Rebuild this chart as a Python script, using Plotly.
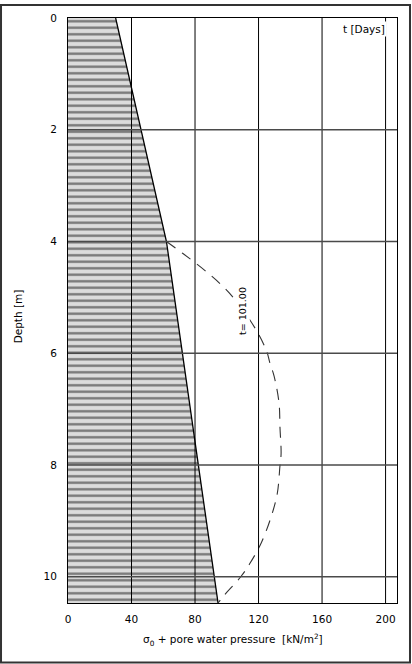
import plotly.graph_objects as go

# ---- data ----
depth_sigma = [0.0, 4.0, 10.47]
sigma0 = [30.0, 62.0, 94.5]

depth_t101 = [4.0, 4.22, 4.52, 4.81, 5.08, 5.55, 5.97, 6.18, 6.41, 6.89,
              7.33, 7.80, 8.01, 8.51, 8.93, 9.40, 9.76, 10.0, 10.35, 10.47]
total_t101 = [62.0, 72.6, 86.3, 97.8, 106.3, 117.8, 125.2, 127.2, 129.8, 132.9,
              133.5, 134.2, 133.5, 131.8, 127.9, 121.6, 114.6, 108.8, 97.8, 94.5]

x_ticks = [0, 40, 80, 120, 160, 200]
y_ticks = [0, 2, 4, 6, 8, 10]
x_range = [0, 207.2]
y_range = [10.47, 0]

curve_label = "t= 101.00"
curve_label_pos = (110.0, 5.25)

FONT = "DejaVu Sans"

fig = go.Figure()

# hatched sigma_0 area
poly_x = [0] + sigma0 + [0]
poly_y = [depth_sigma[0]] + depth_sigma + [depth_sigma[-1]]
fig.add_trace(go.Scatter(
    x=poly_x, y=poly_y, mode="lines", fill="toself",
    fillcolor="#dcdcdc",
    fillpattern=dict(shape="-", bgcolor="#dcdcdc", fgcolor="#111111",
                     size=6.5, solidity=0.36),
    line=dict(width=0), hoverinfo="skip", showlegend=False))

# sigma_0 line
fig.add_trace(go.Scatter(
    x=sigma0, y=depth_sigma, mode="lines",
    line=dict(color="black", width=1.3), showlegend=False))

# t = 101 days curve
fig.add_trace(go.Scatter(
    x=total_t101, y=depth_t101, mode="lines",
    line=dict(color="#333333", width=1.1, dash="11px,8px", shape="spline"),
    showlegend=False))

# grid lines above the hatching
shapes = []
for v in x_ticks[1:]:
    shapes.append(dict(type="line", xref="x", yref="paper", x0=v, x1=v, y0=0, y1=1,
                       line=dict(color="black", width=1), layer="above"))
for v in y_ticks[1:]:
    shapes.append(dict(type="line", xref="paper", yref="y", x0=0, x1=1, y0=v, y1=v,
                       line=dict(color="#4a4a4a", width=1.5), layer="above"))
# outer frame of the picture
shapes.append(dict(type="rect", xref="paper", yref="paper",
                   x0=-0.2036, x1=1.0395, y0=-0.1019, y1=1.0221,
                   line=dict(color="#333333", width=2), layer="above"))

annotations = [
    dict(text=curve_label, x=curve_label_pos[0], y=curve_label_pos[1], xref="x", yref="y",
         textangle=-90, showarrow=False, bgcolor="white", borderpad=1,
         font=dict(family=FONT, size=9.5, color="black")),
    dict(text="t [Days]", x=0.9696, y=0.9813, xref="paper", yref="paper",
         xanchor="right", yanchor="middle", showarrow=False, bgcolor="white",
         borderpad=1, font=dict(family=FONT, size=10.5, color="black")),
    dict(text="σ<sub>0</sub> + pore water pressure  [kN/m<sup>2</sup>]",
         x=0.5, y=-0.063, xref="paper", yref="paper", xanchor="center", yanchor="middle",
         showarrow=False, font=dict(family=FONT, size=10.5, color="black")),
    dict(text="Depth [m]", x=-0.152, y=0.49, xref="paper", yref="paper",
         textangle=-90, xanchor="center", yanchor="middle",
         showarrow=False, font=dict(family=FONT, size=10.5, color="black")),
]

fig.update_layout(
    width=412, height=664,
    margin=dict(l=68, r=15, t=14, b=61),
    paper_bgcolor="white", plot_bgcolor="white",
    shapes=shapes, annotations=annotations,
    showlegend=False,
    xaxis=dict(range=x_range, tickvals=x_ticks, showgrid=False, zeroline=False,
               showline=True, linecolor="black", linewidth=1, mirror=True,
               ticks="", ticklabelstandoff=6,
               tickfont=dict(family=FONT, size=10.5, color="black")),
    yaxis=dict(range=y_range, tickvals=y_ticks, showgrid=False, zeroline=False,
               showline=True, linecolor="black", linewidth=1, mirror=True,
               ticks="", ticklabelstandoff=8,
               tickfont=dict(family=FONT, size=10.5, color="black")),
)

fig.write_html("out.html", config={"displayModeBar": False},
               post_script="document.body.style.margin='0';document.body.style.overflow='hidden';")
